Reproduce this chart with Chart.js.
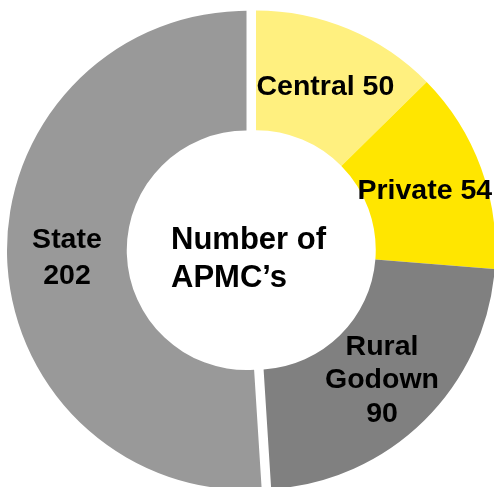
<!DOCTYPE html>
<html>
<head>
<meta charset="utf-8">
<script src="https://cdn.jsdelivr.net/npm/chart.js@4"></script>
<style>
  html, body { margin: 0; padding: 0; background: #fff; }
  #wrap { width: 494px; height: 487px; position: relative; overflow: hidden; }
</style>
</head>
<body>
<div id="wrap"><canvas id="myChart"></canvas></div>
<script>
const categories = ['Central', 'Private', 'Rural Godown', 'State'];
const apmcCounts = [50, 54, 90, 202];
const sliceColors = ['#FFF07F', '#FFE600', '#808080', '#999999'];
const wrapLabel = [false, false, true, true]; // put each word on its own line
const centerLines = ['Number of', 'APMC\u2019s'];

const FONT = '"Liberation Sans", Arial, Helvetica, sans-serif';
const PULLED = 3;      // State slice is pulled out
const PULL_DIST = 9.5; // px, plain shift (chart.js offset also grows the radius)

function pullShift(arc, i) {
    const d = i === PULLED ? PULL_DIST : 0;
    const a = (arc.startAngle + arc.endAngle) / 2;
    return { x: Math.cos(a) * d, y: Math.sin(a) * d };
}

// draws multi-line text with the block of cap heights centred on (x, y)
function drawBlock(ctx, lines, x, y, size, lineH, align) {
    const cap = size * 0.716;
    const blockH = (lines.length - 1) * lineH + cap;
    let base = y - blockH / 2 + cap;
    ctx.textAlign = align;
    ctx.textBaseline = 'alphabetic';
    lines.forEach(function (t) {
        ctx.fillText(t, x, base);
        base += lineH;
    });
}

const pullOut = {
    id: 'pullOut',
    afterDatasetUpdate(chart, args) {
        const arc = args.meta.data[PULLED];
        if (!arc || arc._pulled) return;
        const baseDraw = arc.draw;
        arc.draw = function (ctx, area) {
            const s = pullShift(this, PULLED);
            ctx.save();
            ctx.translate(s.x, s.y);
            baseDraw.call(this, ctx, area);
            ctx.restore();
        };
        arc._pulled = true;
    }
};

const sliceLabels = {
    id: 'sliceLabels',
    afterDatasetsDraw(chart) {
        const ctx = chart.ctx;
        const meta = chart.getDatasetMeta(0);
        ctx.save();
        ctx.fillStyle = '#000';
        ctx.font = 'bold 28.5px ' + FONT;
        meta.data.forEach(function (arc, i) {
            const p = arc.getCenterPoint();
            const s = pullShift(arc, i);
            const text = categories[i] + ' ' + apmcCounts[i];
            const lines = wrapLabel[i] ? text.split(' ') : [text];
            drawBlock(ctx, lines, p.x + s.x, p.y + s.y, 28.5, i === 3 ? 36 : 33.5, 'center');
        });
        // centre caption
        const first = meta.data[0];
        ctx.font = 'bold 31px ' + FONT;
        drawBlock(ctx, centerLines, first.x - 85, first.y + 7, 31, 38.5, 'left');
        ctx.restore();
    }
};

document.addEventListener('DOMContentLoaded', function () {
    const ctx = document.getElementById('myChart');
    new Chart(ctx, {
        type: 'doughnut',
        data: {
            labels: categories,
            datasets: [{
                data: apmcCounts,
                backgroundColor: sliceColors,
                borderWidth: 0
            }]
        },
        options: {
            responsive: true,
            maintainAspectRatio: false,
            animation: false,
            radius: 239.5,
            cutout: '50%',
            layout: { padding: { left: 18, top: 13, right: 0, bottom: 0 } },
            plugins: {
                legend: { display: false },
                tooltip: { enabled: false }
            }
        },
        plugins: [pullOut, sliceLabels]
    });
});
</script>
</body>
</html>
